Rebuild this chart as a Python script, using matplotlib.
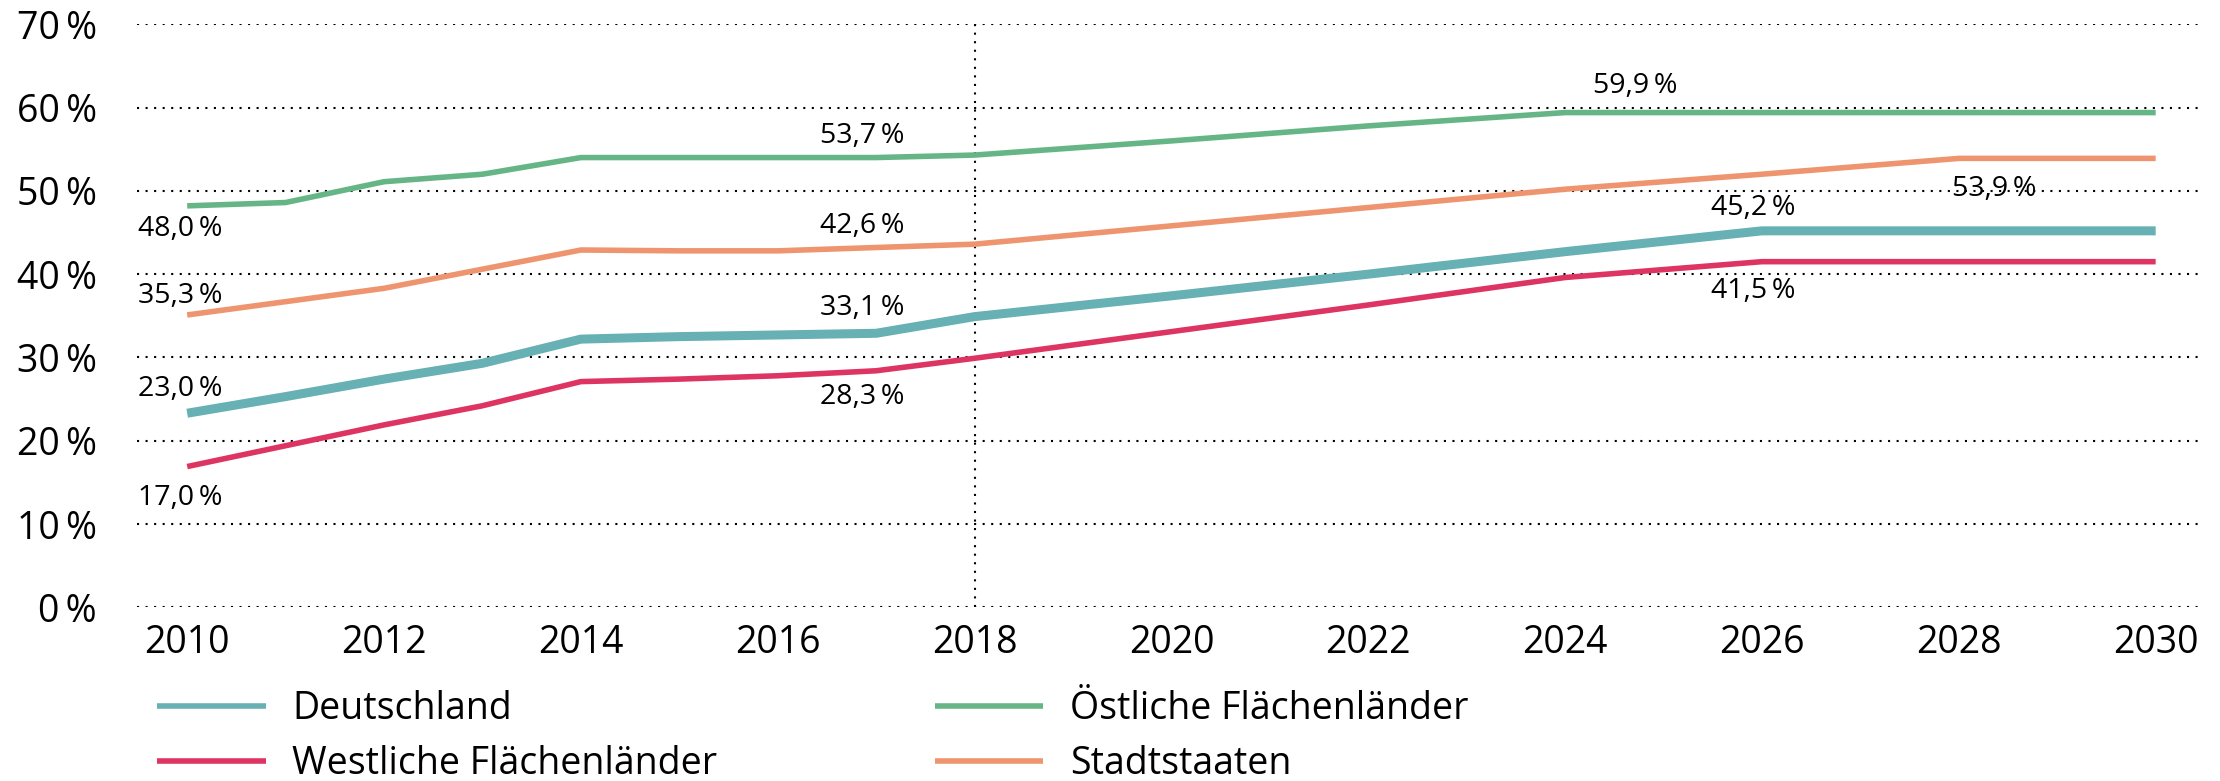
import matplotlib
matplotlib.use('Agg')
import matplotlib.pyplot as plt
from matplotlib.ticker import FuncFormatter

plt.rcParams['font.family'] = ['Open Sans', 'DejaVu Sans']

# Data (share of values in %)

years = [2010, 2011, 2012, 2013, 2014, 2015, 2016, 2017, 2018, 2020, 2022, 2024, 2026, 2028, 2030]

deutschland = [23.3, 25.3, 27.4, 29.3, 32.2, 32.5, 32.7, 32.9, 34.9, 37.4, 40.0, 42.7, 45.2, 45.2, 45.2]
westliche = [16.9, 19.4, 21.9, 24.2, 27.1, 27.4, 27.8, 28.4, 29.9, 33.1, 36.3, 39.6, 41.5, 41.5, 41.5]
oestliche = [48.2, 48.6, 51.1, 52.0, 54.0, 54.0, 54.0, 54.0, 54.3, 56.0, 57.8, 59.4, 59.4, 59.4, 59.4]
stadtstaaten = [35.1, 36.7, 38.3, 40.6, 42.9, 42.8, 42.8, 43.2, 43.6, 45.8, 48.0, 50.2, 52.0, 53.9, 53.9]

series_names = ['Deutschland', 'Westliche Flächenländer', 'Östliche Flächenländer', 'Stadtstaaten']
series_values = [deutschland, westliche, oestliche, stadtstaaten]
colors = ['#67b0b3', '#dd3461', '#66b587', '#ee956f']
widths = [6.5, 4.0, 4.0, 4.0]

x_ticks = list(range(2010, 2031, 2))
y_ticks = list(range(0, 71, 10))
marked_year = 2018

# value labels: (series index, year, text, x offset px, y offset px, alignment)
value_labels = [
    (2, 2010, '48,0\u2009%', -49, -23, 'left'),
    (3, 2010, '35,3\u2009%', -49, 19, 'left'),
    (0, 2010, '23,0\u2009%', -49, 24, 'left'),
    (1, 2010, '17,0\u2009%', -49, -31, 'left'),
    (2, 2017, '53,7\u2009%', -14, 22, 'center'),
    (3, 2017, '42,6\u2009%', -14, 22, 'center'),
    (0, 2017, '33,1\u2009%', -14, 25, 'center'),
    (1, 2017, '28,3\u2009%', -14, -26, 'center'),
    (2, 2024, '59,9\u2009%', 70, 27, 'center'),
    (0, 2026, '45,2\u2009%', -9, 23, 'center'),
    (1, 2026, '41,5\u2009%', -9, -29, 'center'),
    (3, 2028, '53,9\u2009%', 35, -31, 'center'),
]

fig = plt.figure(figsize=(22.2, 7.81), dpi=100)
ax = fig.add_axes([137 / 2220, 1 - 607.3 / 781, (2198 - 137) / 2220, (607.3 - 24.3) / 781])

dots = (0, (1, 3.1))

for name, vals, c, lw in zip(series_names, series_values, colors, widths):
    ax.plot(years, vals, color=c, linewidth=lw, solid_capstyle='butt', label=name, zorder=3)

ax.axvline(marked_year, color='black', linestyle=dots, linewidth=1.5, zorder=2)

for idx, yr, txt, dx, dy, ha in value_labels:
    val = series_values[idx][years.index(yr)]
    ax.annotate(txt, xy=(yr, val), xytext=(dx, dy), textcoords='offset pixels',
                ha=ha, va='center', fontsize=20.5, color='black', zorder=4)

ax.set_xlim(2009.49, 2030.43)
ax.set_ylim(0, 70)
ax.set_xticks(x_ticks)
ax.set_yticks(y_ticks)
ax.yaxis.set_major_formatter(FuncFormatter(lambda v, p: '%d\u2009%%' % v))
ax.tick_params(axis='both', length=0, labelsize=27, colors='black')
ax.tick_params(axis='y', pad=29)
ax.tick_params(axis='x', pad=12)
ax.grid(axis='y', color='black', linestyle=dots, linewidth=1.5, zorder=1)
for s in ax.spines.values():
    s.set_visible(False)

handles, labels = ax.get_legend_handles_labels()
leg = ax.legend(handles, labels, ncol=2, frameon=False, loc='upper left',
                bbox_to_anchor=(157 / 2220, 0.116), bbox_transform=fig.transFigure,
                fontsize=27, handlelength=2.9, handletextpad=0.7, columnspacing=5.8,
                labelspacing=0.44, borderpad=0, borderaxespad=0)
for line in leg.get_lines():
    line.set_linewidth(4.0)

fig.savefig('out.png', dpi=100)
